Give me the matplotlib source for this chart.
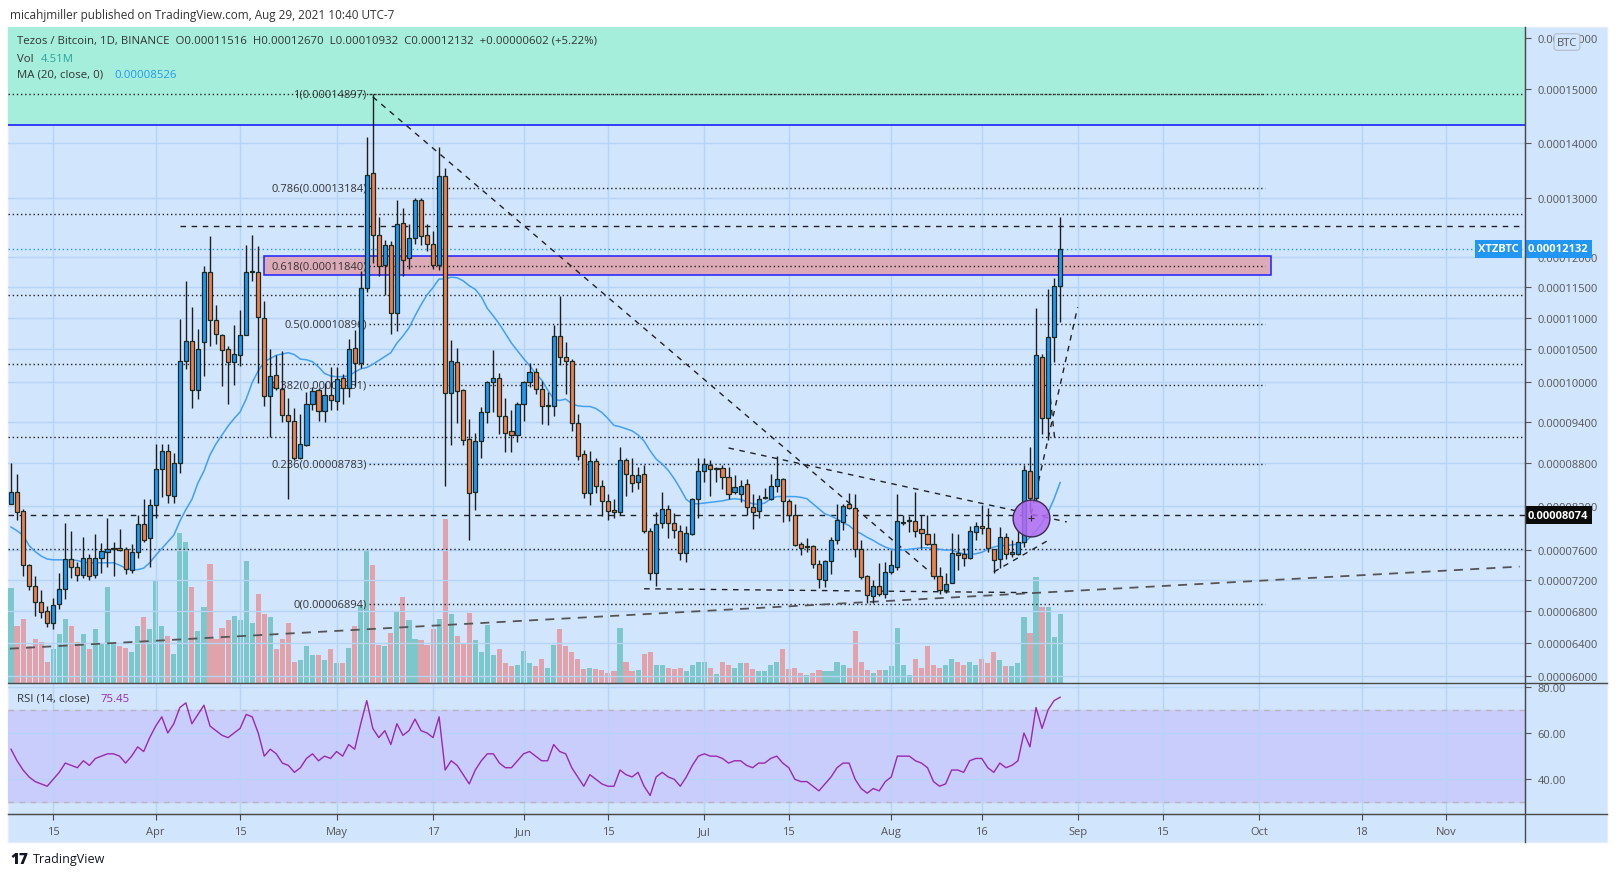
import numpy as np
import pandas as pd
import matplotlib
matplotlib.use('Agg')
import matplotlib.pyplot as plt
from matplotlib.transforms import blended_transform_factory as btf
from matplotlib.patches import Rectangle
from matplotlib.lines import Line2D
from matplotlib.ticker import NullLocator

plt.rcParams['font.family'] = ['Open Sans', 'DejaVu Sans']

# ---------------- data (prices in units of 1e-5 BTC) ----------------
start_date = '2021-03-08'
opens = [8.23, 8.39, 8.13, 7.40, 7.13, 6.92, 6.80, 6.65, 6.89, 7.09,
         7.48, 7.38, 7.27, 7.49, 7.27, 7.50, 7.57, 7.62, 7.63, 7.61,
         7.33, 7.57, 7.95, 7.76, 8.21, 8.72, 8.98, 8.34, 8.81, 10.32,
         10.64, 9.87, 10.62, 11.74, 10.97, 10.73, 10.50, 10.30, 10.42, 10.73,
         11.75, 11.75, 10.99, 9.79, 10.11, 9.89, 9.51, 9.42, 8.88, 9.07,
         9.67, 9.88, 9.56, 9.80, 9.71, 10.06, 9.91, 10.52, 10.29, 11.49,
         13.44, 12.37, 11.87, 12.19, 11.08, 12.58, 11.98, 12.32, 12.98, 12.37,
         12.22, 11.87, 13.39, 9.83, 10.30, 9.87, 9.15, 8.39, 9.12, 9.55,
         10.00, 10.06, 9.49, 9.26, 9.21, 9.66, 10.00, 10.15, 9.89, 9.64,
         9.64, 10.71, 10.38, 10.32, 9.39, 8.93, 8.38, 8.83, 8.48, 8.27,
         8.15, 8.11, 8.84, 8.64, 8.53, 8.65, 7.86, 7.29, 7.96, 8.16,
         7.96, 7.86, 7.56, 7.82, 8.29, 8.69, 8.77, 8.72, 8.73, 8.60,
         8.39, 8.36, 8.50, 8.18, 8.13, 8.31, 8.30, 8.48, 8.58, 8.27,
         8.07, 7.68, 7.64, 7.65, 7.41, 7.20, 7.45, 7.73, 7.98, 8.22,
         8.17, 7.61, 7.26, 7.00, 7.13, 7.02, 7.31, 7.38, 7.96, 7.99,
         7.99, 7.89, 7.82, 7.68, 7.25, 7.08, 7.16, 7.56, 7.55, 7.50,
         7.84, 7.93, 7.90, 7.61, 7.48, 7.77, 7.55, 7.55, 7.71, 8.69,
         8.31, 10.39, 9.46, 10.70, 11.516]
highs = [8.81, 8.65, 8.16, 7.42, 7.26, 7.08, 6.87, 6.97, 7.30, 7.96,
         7.86, 7.44, 7.77, 7.55, 7.82, 7.69, 8.04, 7.71, 7.89, 7.64,
         7.68, 8.08, 8.30, 8.30, 9.08, 9.08, 9.08, 8.95, 10.98, 11.60,
         11.18, 10.82, 11.85, 12.35, 11.21, 10.75, 10.56, 10.88, 11.12, 12.20,
         12.37, 12.18, 11.27, 10.50, 10.42, 10.48, 9.76, 9.60, 9.52, 9.85,
         9.93, 9.91, 9.99, 10.23, 10.23, 10.12, 10.66, 10.81, 11.77, 14.11,
         14.90, 12.68, 12.29, 12.26, 12.97, 12.83, 12.56, 13.00, 13.00, 12.56,
         12.43, 13.92, 13.54, 10.65, 10.53, 9.90, 9.44, 9.24, 9.62, 10.02,
         10.49, 10.13, 9.75, 9.58, 9.69, 10.02, 10.29, 10.22, 10.02, 9.84,
         10.88, 11.35, 10.62, 10.35, 9.52, 8.99, 8.98, 8.87, 8.56, 8.37,
         8.30, 9.04, 8.87, 8.87, 8.74, 8.77, 7.90, 8.11, 8.39, 8.21,
         8.10, 7.94, 7.92, 8.31, 8.87, 8.87, 8.85, 8.74, 8.77, 8.74,
         8.63, 8.56, 8.57, 8.36, 8.35, 8.45, 8.65, 8.91, 8.59, 8.30,
         8.23, 7.71, 7.76, 7.67, 7.47, 7.47, 7.77, 8.23, 8.22, 8.38,
         8.37, 7.74, 7.27, 7.21, 7.43, 7.44, 7.60, 8.36, 8.07, 8.06,
         8.39, 8.08, 8.07, 7.83, 7.38, 7.30, 7.83, 7.82, 7.63, 7.93,
         7.98, 8.21, 8.17, 7.62, 7.91, 7.83, 7.73, 7.87, 8.78, 9.04,
         11.16, 10.43, 11.47, 11.65, 12.670]
lows = [8.22, 8.00, 7.26, 7.08, 6.74, 6.72, 6.60, 6.58, 6.83, 6.96,
        7.23, 7.19, 7.23, 7.20, 7.23, 7.29, 7.37, 7.26, 7.59, 7.28,
        7.29, 7.50, 7.71, 7.37, 8.04, 8.32, 8.24, 8.24, 8.66, 10.20,
        9.61, 9.74, 10.09, 10.56, 10.58, 9.94, 9.67, 9.96, 10.25, 10.72,
        11.59, 9.99, 9.64, 9.18, 9.88, 9.40, 8.29, 8.85, 8.86, 9.05,
        9.58, 9.41, 9.40, 9.58, 9.58, 9.67, 9.77, 9.94, 10.21, 11.42,
        11.90, 11.68, 11.37, 10.75, 10.79, 11.68, 11.79, 12.22, 12.19, 12.09,
        11.79, 11.78, 8.48, 9.06, 9.39, 9.06, 7.73, 8.15, 8.87, 9.39,
        9.55, 9.23, 8.96, 8.96, 9.10, 9.42, 9.93, 9.81, 9.37, 9.36,
        9.49, 10.26, 9.82, 9.27, 8.84, 8.31, 8.21, 8.38, 8.06, 8.01,
        8.03, 8.07, 8.34, 8.39, 8.44, 7.83, 7.20, 7.13, 7.90, 7.76,
        7.76, 7.47, 7.44, 7.80, 8.04, 8.54, 8.34, 8.54, 8.44, 8.30,
        8.36, 8.26, 8.08, 7.89, 8.03, 8.29, 8.28, 8.39, 7.98, 7.99,
        7.66, 7.54, 7.57, 7.36, 7.10, 7.11, 7.28, 7.68, 7.87, 8.16,
        7.51, 7.22, 6.91, 6.91, 7.00, 6.97, 7.28, 7.33, 7.94, 7.84,
        7.77, 7.63, 7.67, 7.22, 7.02, 7.03, 7.16, 7.33, 7.39, 7.48,
        7.73, 7.82, 7.58, 7.30, 7.36, 7.48, 7.51, 7.53, 7.64, 8.12,
        8.26, 9.23, 9.13, 10.30, 10.932]
closes = [8.39, 8.11, 7.40, 7.13, 6.92, 6.79, 6.65, 6.88, 7.09, 7.48,
          7.37, 7.27, 7.50, 7.26, 7.49, 7.59, 7.62, 7.63, 7.60, 7.35,
          7.57, 7.95, 7.73, 8.21, 8.72, 8.98, 8.35, 8.81, 10.32, 10.64,
          9.87, 10.51, 11.74, 10.97, 10.75, 10.49, 10.31, 10.43, 10.73, 11.74,
          11.76, 11.01, 9.79, 10.09, 9.91, 9.50, 9.42, 8.87, 9.08, 9.67,
          9.86, 9.56, 9.80, 9.72, 10.05, 9.91, 10.50, 10.29, 11.49, 13.42,
          12.37, 11.84, 12.19, 11.07, 12.56, 11.95, 12.32, 12.98, 12.35, 12.22,
          11.87, 13.39, 9.83, 10.32, 9.86, 9.14, 8.38, 9.12, 9.55, 10.00,
          10.06, 9.49, 9.24, 9.21, 9.66, 10.00, 10.15, 9.89, 9.63, 9.65,
          10.71, 10.38, 10.32, 9.39, 8.91, 8.38, 8.83, 8.48, 8.27, 8.13,
          8.11, 8.84, 8.65, 8.52, 8.64, 7.86, 7.29, 7.95, 8.16, 7.96,
          7.87, 7.56, 7.83, 8.30, 8.69, 8.79, 8.72, 8.73, 8.60, 8.37,
          8.47, 8.48, 8.18, 8.11, 8.30, 8.32, 8.48, 8.58, 8.27, 8.07,
          7.67, 7.63, 7.65, 7.41, 7.22, 7.45, 7.73, 8.00, 8.20, 8.17,
          7.61, 7.24, 7.01, 7.13, 7.02, 7.31, 7.40, 7.99, 7.98, 8.00,
          7.86, 7.83, 7.68, 7.26, 7.08, 7.15, 7.56, 7.53, 7.50, 7.86,
          7.93, 7.90, 7.63, 7.47, 7.77, 7.55, 7.58, 7.71, 8.70, 8.31,
          10.41, 9.46, 10.70, 11.52, 12.132]
volume_m = [6.2, 3.7, 4.2, 2.4, 2.9, 2.7, 1.4, 2.2, 3.2, 4.2,
            3.7, 2.7, 3.2, 2.2, 3.5, 2.6, 6.3, 2.6, 2.4, 2.3,
            2.0, 3.7, 4.3, 3.5, 6.7, 3.7, 3.1, 1.9, 9.8, 9.2,
            6.3, 3.4, 5.0, 7.8, 2.9, 3.6, 4.1, 4.4, 4.1, 8.0,
            3.9, 5.8, 4.5, 4.3, 2.2, 2.9, 3.9, 1.4, 1.5, 2.4,
            1.8, 1.8, 1.5, 2.2, 1.3, 1.3, 2.3, 3.7, 5.1, 8.6,
            7.7, 2.5, 2.4, 3.3, 4.7, 5.6, 4.1, 2.9, 2.8, 2.5,
            3.5, 4.2, 10.7, 4.5, 3.1, 2.6, 4.6, 2.8, 2.0, 3.8,
            1.8, 2.2, 1.3, 1.1, 1.2, 2.1, 1.3, 1.1, 1.6, 1.0,
            2.5, 3.5, 2.4, 2.0, 1.6, 0.9, 1.0, 0.9, 0.85, 0.65,
            0.8, 3.6, 1.4, 0.8, 0.85, 1.9, 2.0, 1.2, 1.2, 1.0,
            0.9, 1.0, 0.8, 1.2, 1.4, 1.4, 1.0, 0.6, 1.4, 1.2,
            1.0, 1.3, 1.3, 0.9, 0.8, 0.8, 1.2, 1.4, 2.2, 0.9,
            1.0, 0.65, 0.5, 0.65, 0.85, 0.8, 0.8, 1.4, 1.2, 1.0,
            3.4, 1.4, 0.85, 0.65, 0.85, 0.85, 1.1, 3.6, 1.2, 0.5,
            1.6, 1.0, 2.4, 1.2, 1.0, 1.2, 1.6, 1.4, 1.2, 1.4,
            1.2, 1.6, 1.3, 2.0, 1.5, 1.1, 1.1, 1.3, 4.3, 3.3,
            6.9, 5.0, 5.0, 3.0, 4.51]
ma20 = [7.91, 7.86, 7.80, 7.66, 7.58, 7.52, 7.48, 7.47, 7.47, 7.47,
        7.47, 7.46, 7.44, 7.43, 7.43, 7.43, 7.43, 7.43, 7.40, 7.36,
        7.34, 7.34, 7.36, 7.43, 7.53, 7.62, 7.71, 7.80, 7.99, 8.15,
        8.29, 8.52, 8.69, 8.92, 9.08, 9.21, 9.34, 9.45, 9.55, 9.74,
        9.99, 10.17, 10.31, 10.36, 10.41, 10.43, 10.45, 10.42, 10.35, 10.34,
        10.31, 10.23, 10.13, 10.09, 10.08, 10.08, 10.09, 10.15, 10.20, 10.22,
        10.27, 10.33, 10.39, 10.45, 10.60, 10.71, 10.84, 11.03, 11.21, 11.37,
        11.49, 11.63, 11.63, 11.66, 11.65, 11.60, 11.52, 11.46, 11.34, 11.15,
        11.03, 10.90, 10.75, 10.60, 10.48, 10.36, 10.25, 10.13, 10.03, 9.88,
        9.74, 9.72, 9.74, 9.67, 9.64, 9.63, 9.63, 9.60, 9.54, 9.45,
        9.35, 9.33, 9.30, 9.27, 9.21, 9.12, 8.98, 8.86, 8.79, 8.70,
        8.58, 8.44, 8.29, 8.23, 8.23, 8.24, 8.25, 8.26, 8.27, 8.29,
        8.30, 8.29, 8.26, 8.23, 8.22, 8.24, 8.30, 8.33, 8.33, 8.33,
        8.33, 8.32, 8.30, 8.23, 8.16, 8.09, 8.06, 8.02, 7.97, 7.93,
        7.86, 7.82, 7.77, 7.73, 7.68, 7.64, 7.61, 7.60, 7.60, 7.61,
        7.62, 7.63, 7.63, 7.62, 7.61, 7.60, 7.60, 7.57, 7.55, 7.54,
        7.55, 7.57, 7.61, 7.64, 7.66, 7.66, 7.67, 7.68, 7.70, 7.77,
        7.86, 7.97, 8.11, 8.30, 8.526]
rsi14 = [53, 48, 44, 41, 39, 38, 37, 40, 43, 47,
         46, 45, 48, 46, 49, 50, 51, 51, 50, 47,
         50, 54, 52, 58, 63, 67, 60, 64, 71, 73,
         64, 68, 72, 63, 61, 59, 58, 60, 62, 68,
         67, 60, 50, 53, 51, 47, 46, 43, 45, 49,
         51, 48, 50, 49, 52, 50, 55, 53, 64, 74,
         62, 58, 61, 55, 64, 59, 61, 66, 61, 60,
         58, 67, 44, 48, 46, 42, 38, 44, 48, 51,
         51, 47, 45, 45, 48, 51, 52, 50, 48, 48,
         55, 52, 51, 45, 41, 37, 42, 40, 38, 37,
         37, 44, 42, 41, 43, 37, 33, 41, 43, 41,
         40, 37, 41, 46, 50, 51, 50, 50, 49, 47,
         48, 48, 46, 45, 47, 47, 49, 50, 47, 45,
         40, 39, 39, 37, 35, 38, 41, 45, 47, 47,
         40, 36, 34, 36, 35, 39, 41, 50, 50, 50,
         48, 47, 45, 39, 37, 38, 44, 44, 43, 48,
         49, 49, 45, 43, 47, 45, 46, 48, 60, 54,
         71, 62, 70, 74, 75.45]

price_ticks = [16.0, 15.0, 14.0, 13.0, 12.0, 11.5, 11.0, 10.5, 10.0, 9.4,
               8.8, 8.2, 7.6, 7.2, 6.8, 6.4, 6.0]
rsi_ticks = [40, 60, 80]
date_ticks = ['2021-03-15', '2021-04-01', '2021-04-15', '2021-05-01', '2021-05-17',
              '2021-06-01', '2021-06-15', '2021-07-01', '2021-07-15', '2021-08-01',
              '2021-08-16', '2021-09-01', '2021-09-15', '2021-10-01', '2021-10-18',
              '2021-11-01']
date_labels = ['15', 'Apr', '15', 'May', '17', 'Jun', '15', 'Jul', '15', 'Aug',
               '16', 'Sep', '15', 'Oct', '18', 'Nov']

fib_levels = [14.897, 13.184, 11.840, 10.8955, 9.951, 8.783, 6.894]
fib_labels = ['1(0.00014897)', '0.786(0.00013184)', '0.618(0.00011840)',
              '0.5(0.00010896)', '0.382(0.00009951)', '0.236(0.00008783)',
              '0(0.00006894)']
hlines_dotted = [14.90, 12.73, 11.37, 10.275, 9.175, 7.61]
hline_dashed_full = 8.074
hline_dashed_part = 12.52
zone_green_low = 14.33
box_pink = (42.0, 209.0, 11.69, 12.01)   # day from, day to, price low, price high
trend_lines = [((60, 14.85), (153, 7.27)),
               ((119, 9.02), (175.1, 7.98)),
               ((105, 7.09), (168.7, 7.04)),
               ((163, 7.31), (171.8, 7.72)),
               ((169.2, 8.09), (176.9, 11.17)),
               ((171.8, 10.25), (173.1, 9.15))]
long_line = ((-0.2, 6.33), (250.2, 7.38))
circle_pt = (169.1, 8.03)

S = 1e-5
O = np.array(opens) * S
Hh = np.array(highs) * S
Ll = np.array(lows) * S
C = np.array(closes) * S
V = np.array(volume_m)
MA = np.array(ma20) * S
R = np.array(rsi14)
n = len(O)
x = np.arange(n)
t0 = pd.Timestamp(start_date)
tick_x = [(pd.Timestamp(d) - t0).days for d in date_ticks]

# ---------------- styling ----------------
W, Hpx = 1617, 878
BG = '#d1e5fd'
GRID = '#b6d5f6'
UPC = '#2196f3'
DNC = '#ef7f4f'
VUP = '#7cc7cb'
VDN = '#e0a3ab'
TXT = '#555555'
AXC = '#4a4a4a'

fig = plt.figure(figsize=(W / 100, Hpx / 100), dpi=100)
fig.patch.set_facecolor('white')


def rect(l, t, r, b):
    return [l / W, 1 - b / Hpx, (r - l) / W, (b - t) / Hpx]


def fx(px):
    return px / W


def fy(py):
    return 1 - py / Hpx


fig.patches.append(Rectangle((fx(8), fy(843)), (1607 - 8) / W, (843 - 28) / Hpx,
                             transform=fig.transFigure, facecolor=BG,
                             edgecolor='#e4ecf5', lw=1, zorder=-5))

XL = (-0.5, 251.1)
YL = (5.91e-5, 16.21e-5)

# volume axes (below)
axv = fig.add_axes(rect(8, 28, 1525, 684))
axv.set_facecolor('none')
axv.set_xlim(*XL)
axv.set_ylim(0, 42.9)
axv.axis('off')

# price axes
ax = fig.add_axes(rect(8, 28, 1525, 684))
ax.set_facecolor('none')


def fwd(p):
    return np.log(np.asarray(p) * 1e5 + 9.79)


def inv(v):
    return (np.exp(np.asarray(v)) - 9.79) / 1e5


ax.set_yscale('function', functions=(fwd, inv))
ax.set_xlim(*XL)
ax.set_ylim(*YL)
ax.set_axisbelow(True)
ax.set_yticks([t * S for t in price_ticks])
ax.set_yticklabels(['%.8f' % (t * S) for t in price_ticks])
ax.yaxis.set_minor_locator(NullLocator())
ax.set_xticks(tick_x)
ax.xaxis.set_minor_locator(NullLocator())
ax.yaxis.tick_right()
ax.tick_params(axis='y', length=4, color=TXT, labelcolor=TXT, labelsize=8, pad=5)
ax.tick_params(axis='x', bottom=False, labelbottom=False)
ax.grid(True, color=GRID, lw=1)
for s in ['top', 'left', 'bottom']:
    ax.spines[s].set_visible(False)
ax.spines['right'].set_color(AXC)

# volume bars
up = C >= O
axv.bar(x, V, width=0.85, color=np.where(up, VUP, VDN), zorder=1)

# green zone + blue line
ax.add_patch(Rectangle((XL[0], zone_green_low * S), XL[1] - XL[0], 1.0e-4,
                       facecolor='#a6eedc', edgecolor='none', zorder=0.8))
ax.axhline(zone_green_low * S, color='#1f1fff', lw=1.2, zorder=2)

# pink box
bx0, bx1, by0, by1 = box_pink
ax.add_patch(Rectangle((bx0, by0 * S), bx1 - bx0, (by1 - by0) * S,
                       facecolor='#ddaab8', edgecolor='#1f1fff', lw=1.1, zorder=1.5))

# horizontal lines
for lv in hlines_dotted:
    ax.axhline(lv * S, color='#222222', lw=1, ls=(0, (1, 2)), zorder=2)
ax.axhline(hline_dashed_full * S, color='#222222', lw=1, ls=(0, (4, 4)), zorder=2)
ax.plot([28, XL[1]], [hline_dashed_part * S] * 2, color='#222222', lw=1,
        ls=(0, (4, 4)), zorder=2)
ax.axhline(C[-1], color='#2196f3', lw=1, ls=(0, (1, 2)), zorder=2)

# fib retracement
for lv, lab in zip(fib_levels, fib_labels):
    ax.plot([59.3, 208], [lv * S] * 2, color='#222222', lw=1, ls=(0, (1, 2)), zorder=2)
    ax.text(59.0, lv * S, lab, ha='right', va='center', fontsize=8,
            color='#333333', zorder=1.6)

# trend lines
for (a, b) in trend_lines:
    ax.plot([a[0], b[0]], [a[1] * S, b[1] * S], color='#222222', lw=1,
            ls=(0, (4, 4)), zorder=2.2)
ax.plot([long_line[0][0], long_line[1][0]], [long_line[0][1] * S, long_line[1][1] * S],
        color='#555555', lw=1.3, ls=(0, (5, 4)), zorder=2.2)

# MA line
ax.plot(x, MA, color='#42a0f2', lw=1.1, zorder=2.5)

# candles
ax.vlines(x, Ll, Hh, color='#1e1e1e', lw=1, zorder=3)
lo = np.minimum(O, C)
hi = np.maximum(O, C)
ax.bar(x, np.maximum(hi - lo, 0.004 * S), bottom=lo, width=0.68,
       color=np.where(up, UPC, DNC), edgecolor='#1b2a20', linewidth=0.9, zorder=3.2)

# circle
ax.plot([circle_pt[0]], [circle_pt[1] * S], marker='o', ms=26.5,
        mfc=(0.70, 0.42, 0.95, 0.85), mec='#3b2a4d', mew=1, zorder=4)
ax.plot([circle_pt[0]], [circle_pt[1] * S], marker='+', ms=5, color='#333333',
        mew=0.8, zorder=4.1)

# axis price labels
tr = btf(ax.transAxes, ax.transData)
ax.text(1.0 + 3 / 1517, C[-1], '%.8f' % C[-1], transform=tr, ha='left', va='center',
        fontsize=8, color='white', fontweight='bold', clip_on=False, zorder=6,
        bbox=dict(boxstyle='square,pad=0.3', fc='#2196f3', ec='none'))
ax.text((1519 - 8) / 1517, C[-1], 'XTZBTC', transform=tr, ha='right', va='center',
        fontsize=8, color='white', fontweight='bold', zorder=6,
        bbox=dict(boxstyle='square,pad=0.3', fc='#2196f3', ec='none'))
ax.text(1.0 + 3 / 1517, hline_dashed_full * S, '%.8f' % (hline_dashed_full * S),
        transform=tr, ha='left', va='center', fontsize=8, color='white',
        fontweight='bold', clip_on=False, zorder=6,
        bbox=dict(boxstyle='square,pad=0.3', fc='#0b0b0b', ec='none'))

# ---------------- RSI pane ----------------
ax2 = fig.add_axes(rect(8, 684, 1525, 815))
ax2.set_facecolor('none')
ax2.set_xlim(*XL)
ax2.set_ylim(25.0, 81.6)
ax2.set_axisbelow(True)
ax2.set_yticks(rsi_ticks)
ax2.set_yticklabels(['%.2f' % t for t in rsi_ticks])
ax2.set_xticks(tick_x)
ax2.set_xticklabels(date_labels)
ax2.yaxis.tick_right()
ax2.tick_params(axis='y', length=4, color=TXT, labelcolor=TXT, labelsize=8, pad=5)
ax2.tick_params(axis='x', length=4, color=AXC, labelcolor=TXT, labelsize=8, pad=5)
ax2.grid(True, color=GRID, lw=1)
for s in ['top', 'left']:
    ax2.spines[s].set_visible(False)
ax2.spines['right'].set_color(AXC)
ax2.spines['bottom'].set_color(AXC)
ax2.axhspan(30, 70, color='#c9cdfc', zorder=0.3)
for lv in (30, 70):
    ax2.axhline(lv, color='#bcb3b8', lw=1, ls=(0, (4, 4)), zorder=1)
ax2.plot(x, R, color='#9c27b0', lw=1, zorder=2)

# ---------------- frame lines ----------------
for yy in (684, 815):
    fig.add_artist(Line2D([fx(8), fx(1607)], [fy(yy), fy(yy)], color=AXC, lw=1))
fig.add_artist(Line2D([fx(1525), fx(1525)], [fy(28), fy(843)], color=AXC, lw=1))

# ---------------- texts ----------------
fig.text(fx(10), fy(15), 'micahjmiller published on TradingView.com, Aug 29, 2021 10:40 UTC-7',
         fontsize=8.5, color='#333333', va='center')
fig.text(fx(17), fy(41),
         'Tezos / Bitcoin, 1D, BINANCE  O%.8f  H%.8f  L%.8f  C%.8f  +0.00000602 (+5.22%%)'
         % (O[-1], Hh[-1], Ll[-1], C[-1]),
         fontsize=8.2, color='#333333', va='center')
fig.text(fx(17), fy(59), 'Vol', fontsize=8.2, color='#333333', va='center')
fig.text(fx(41), fy(59), '%.2fM' % V[-1], fontsize=8.2, color='#26a69a', va='center')
fig.text(fx(17), fy(75), 'MA (20, close, 0)', fontsize=8.2, color='#333333', va='center')
fig.text(fx(114), fy(75), '%.8f' % MA[-1], fontsize=8.2, color='#2196f3', va='center')
fig.text(fx(17), fy(699), 'RSI (14, close)', fontsize=8.2, color='#333333', va='center')
fig.text(fx(101), fy(699), '%.2f' % R[-1], fontsize=8.2, color='#9c27b0', va='center')
fig.text(fx(1567), fy(43), 'BTC', ha='center', va='center', fontsize=8, color=TXT,
         bbox=dict(boxstyle='round,pad=0.25', fc=BG, ec='#b4bccb', lw=0.8))
fig.text(fx(10), fy(860), '17', fontsize=11, fontweight='heavy', color='#131722', va='center')
fig.text(fx(33), fy(860), 'TradingView', fontsize=9, color='#131722', va='center')

fig.savefig('out.png', dpi=100, facecolor='white')
